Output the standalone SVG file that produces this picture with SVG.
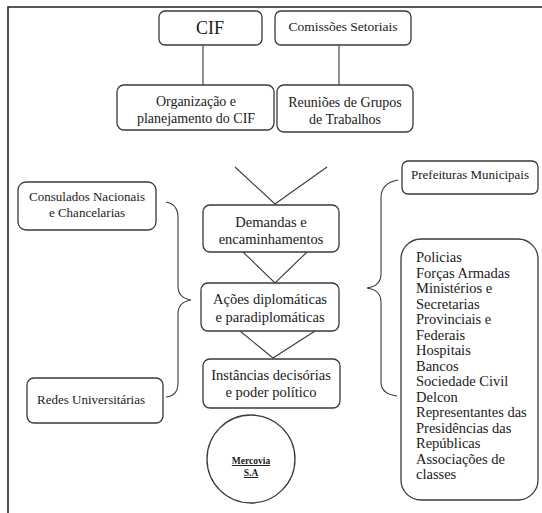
<svg xmlns="http://www.w3.org/2000/svg" width="542" height="513" viewBox="0 0 542 513">
<style>
.b{fill:#fff;stroke:#3a3a3a;stroke-width:1.3}
text{font-family:'Liberation Serif','DejaVu Serif',serif;fill:#1a1a1a;text-anchor:middle}
.c{fill:none;stroke:#3a3a3a;stroke-width:1.1}
</style>
<rect width="542" height="513" fill="#fff"/>
<path d="M8 513V7H542" fill="none" stroke="#222" stroke-width="1.6"/>
<g id="connectors">
<path class="c" d="M203 45V85M339 45V85"/>
<path class="c" d="M235 167L275 204L327 167"/>
<path class="c" d="M243 252L275 283L307 252"/>
<path class="c" d="M240 331L273 358L315 331"/>
<path class="c" d="M166 202Q178 204 178 218V286Q178 298 191 300Q178 302 178 314V383Q178 396 166 397"/>
<path class="c" d="M398 180Q381 183 381 198V274Q381 286 367 288Q381 290 381 302V382Q381 394 397 396"/>
</g>
<g id="cif"><rect class="b" x="159" y="11" width="103" height="34" rx="6"/><text x="210" y="34" font-size="18">CIF</text></g>
<g id="comissoes"><rect class="b" x="275" y="11" width="136" height="34" rx="6"/><text x="343" y="31" font-size="13.5">Comissões Setoriais</text></g>
<g id="organizacao"><rect class="b" x="117" y="85" width="157" height="45" rx="7"/><text x="196" y="106" font-size="14">Organização e</text><text x="196" y="123" font-size="14">planejamento do CIF</text></g>
<g id="reunioes"><rect class="b" x="277" y="85" width="136" height="47" rx="7"/><text x="345" y="107" font-size="14">Reuniões de Grupos</text><text x="345" y="124" font-size="14">de Trabalhos</text></g>
<g id="consulados"><rect class="b" x="18" y="182" width="138" height="48" rx="8"/><text x="87" y="201" font-size="13">Consulados Nacionais</text><text x="87" y="217" font-size="13">e Chancelarias</text></g>
<g id="prefeituras"><rect class="b" x="402" y="161" width="136" height="33" rx="6"/><text x="470" y="179" font-size="13">Prefeituras Municipais</text></g>
<g id="demandas"><rect class="b" x="203" y="205" width="136" height="47" rx="7"/><text x="271" y="227" font-size="14.5">Demandas e</text><text x="271" y="244" font-size="14.5">encaminhamentos</text></g>
<g id="acoes"><rect class="b" x="201" y="283" width="138" height="48" rx="7"/><text x="270" y="304" font-size="14.5">Ações diplomáticas</text><text x="270" y="322" font-size="14.5">e paradiplomáticas</text></g>
<g id="instancias"><rect class="b" x="203" y="359" width="137" height="49" rx="7"/><text x="271" y="380" font-size="14.5">Instâncias decisórias</text><text x="271" y="397" font-size="14.5">e poder político</text></g>
<g id="redes"><rect class="b" x="27" y="378" width="136" height="45" rx="7"/><text x="91" y="404" font-size="13">Redes Universitárias</text></g>
<g id="mercovia"><circle class="b" cx="251" cy="459" r="44"/><text x="251" y="464" font-size="9.5" font-weight="bold" text-decoration="underline">Mercovia</text><text x="251" y="476" font-size="9.5" font-weight="bold" text-decoration="underline">S.A</text></g>
<g id="lista"><rect class="b" x="401" y="239" width="137" height="261" rx="20"/>
<text font-size="14.5" style="text-anchor:start">
<tspan x="416" y="262">Policias</tspan>
<tspan x="416" y="277.5">Forças Armadas</tspan>
<tspan x="416" y="293">Ministérios e</tspan>
<tspan x="416" y="308.5">Secretarias</tspan>
<tspan x="416" y="324">Provinciais e</tspan>
<tspan x="416" y="339.5">Federais</tspan>
<tspan x="416" y="355">Hospitais</tspan>
<tspan x="416" y="370.5">Bancos</tspan>
<tspan x="416" y="386">Sociedade Civil</tspan>
<tspan x="416" y="401.5">Delcon</tspan>
<tspan x="416" y="417">Representantes das</tspan>
<tspan x="416" y="432.5">Presidências das</tspan>
<tspan x="416" y="448">Repúblicas</tspan>
<tspan x="416" y="463.5">Associações de</tspan>
<tspan x="416" y="479">classes</tspan>
</text></g>
</svg>
